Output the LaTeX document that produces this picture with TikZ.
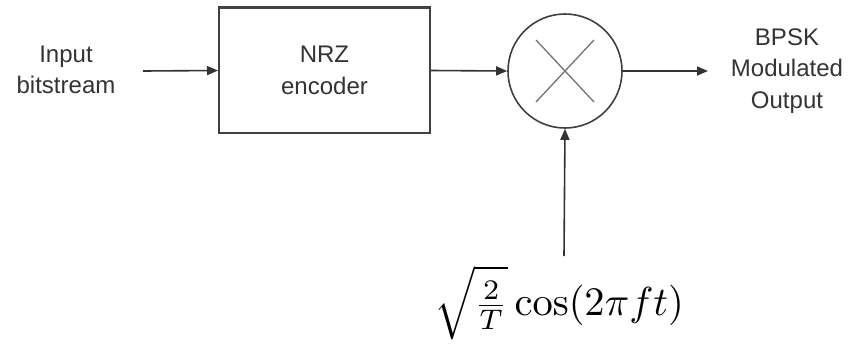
\documentclass[tikz,border=0pt]{standalone}
\usepackage[no-math]{fontspec}
\setmainfont{Liberation Sans}
\usetikzlibrary{arrows.meta,calc}
\begin{document}
\begin{tikzpicture}[x=1pt,y=-1pt,
  lbl/.style={align=center,font=\fontsize{24}{31.5}\selectfont,text=black!80,inner sep=0pt},
  conn/.style={draw=black!80,line width=1.6pt,-{Triangle[length=11pt,width=9pt]}},
  blockbox/.style={draw=black!75,line width=2pt,minimum width=211pt,minimum height=125pt,inner sep=0pt},
  mixer/.style={circle,draw=black!75,line width=1.6pt,minimum size=114pt,inner sep=0pt},
  cross/.style={draw=black!55,line width=1.3pt}]
\useasboundingbox (0,0) rectangle (849,354);
\node[lbl] (in) at (66,70) {Input\\bitstream};
\coordinate (ins) at (143,71);
\node[blockbox,lbl] (nrz) at (324.5,70.5) {NRZ\\encoder};
\draw[black!75,line width=3pt] (nrz.north west) -- (nrz.north east);
\node[mixer] (mx) at (565,71) {};
\draw[cross] ($(mx.center)+(-29,31)$) -- ($(mx.center)+(29,-31)$);
\draw[cross] ($(mx.center)+(-29,-31)$) -- ($(mx.center)+(29,31)$);
\coordinate (outs) at (708,71);
\node[lbl] (out) at (787,71) {BPSK\\Modulated\\Output};
\node[inner sep=0pt,text=black,scale=4.05] (carrier) at (559,303) {$\sqrt{\frac{2}{T}}\cos(2\pi f t)$};
\coordinate (cs) at (564,256);
\draw[conn] (ins) -- (nrz.west);
\draw[conn] (nrz.east) -- (mx.west);
\draw[conn] (mx.east) -- (outs);
\draw[conn] (cs) -- (mx.south);
\end{tikzpicture}
\end{document}
